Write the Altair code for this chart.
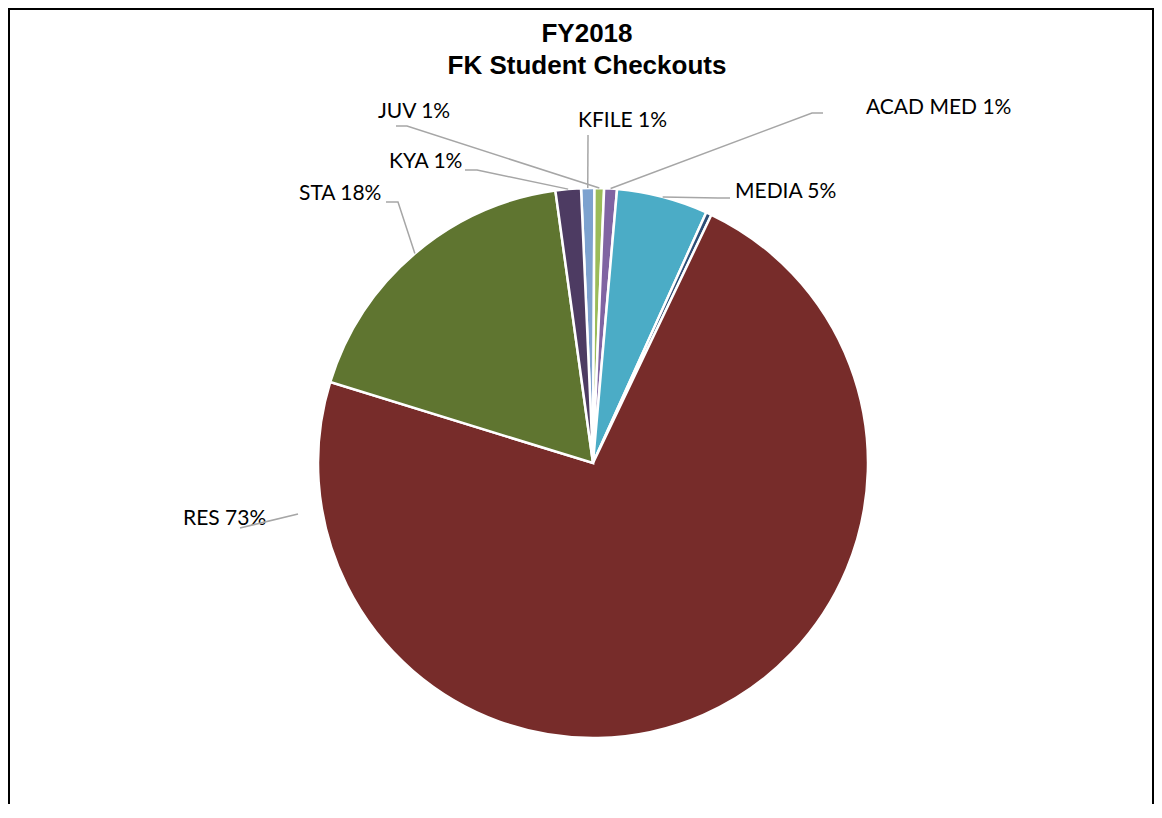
import math
import altair as alt
import pandas as pd

# ---- data (percent of checkouts, clockwise from the top) ----
categories = ["KFILE", "JUV", "ACAD MED", "MEDIA", "OTHER", "RES", "STA", "KYA"]
percents = [0.78, 0.56, 0.75, 5.36, 0.33, 72.67, 18.06, 1.49]
labelled = [True, True, True, True, False, True, True, True]
colors = ["#7DA2CF", "#9BBB59", "#8064A2", "#4BACC6", "#2C4D75", "#772C2A", "#5F7530", "#4D3B62"]

title_lines = ["FY2018", "FK Student Checkouts"]

# ---- layout ----
W, H = 1146, 796
CX, CY, R = 585, 455, 275
START_DEG = -2.5

label_layout = {
    "KFILE": dict(tx=570, ty=113, path=[(580, 127)], rim=True),
    "JUV": dict(tx=370, ty=104, path=[(388, 118), (399, 118)], rim=True),
    "ACAD MED": dict(tx=858, ty=100, path=[(815, 105), (804, 105)], rim=True),
    "MEDIA": dict(tx=727, ty=184, path=[(722, 190), (710, 190)], rim=True),
    "RES": dict(tx=175, ty=511, path=[(232, 520), (290, 506)], rim=False),
    "STA": dict(tx=291, ty=186, path=[(378, 194), (390, 194)], rim=True),
    "KYA": dict(tx=381, ty=154, path=[(457, 162), (469, 162)], rim=True),
}

df = pd.DataFrame({"cat": categories, "pct": percents, "idx": list(range(len(categories)))})

total = sum(percents)
rows_txt, rows_line = [], []
cum = 0.0
for cat, p, show in zip(categories, percents, labelled):
    mid = math.radians(START_DEG + 360.0 * (cum + p / 2) / total)
    cum += p
    if not show:
        continue
    lay = label_layout[cat]
    rows_txt.append({"label": f"{cat} {round(p)}%", "px": lay["tx"], "py": lay["ty"]})
    pts = list(lay["path"])
    if lay["rim"]:
        pts.append((CX + R * math.sin(mid), CY - R * math.cos(mid)))
    for s, (x, y) in enumerate(pts):
        rows_line.append({"key": cat, "seq": s, "px": x, "py": y})

txt_df = pd.DataFrame(rows_txt)
line_df = pd.DataFrame(rows_line)
title_df = pd.DataFrame({"t": title_lines, "px": [579, 579], "py": [26, 58]})

start = math.radians(START_DEG)
xs = alt.Scale(domain=[0, W], range=[0, W])
ys = alt.Scale(domain=[0, H], range=[0, H])

pie = alt.Chart(df).mark_arc(
    outerRadius=R, stroke="white", strokeWidth=2.5, x=CX, y=CY
).encode(
    theta=alt.Theta("pct:Q", stack=True, scale=alt.Scale(range=[start, start + 2 * math.pi])),
    color=alt.Color("cat:N", scale=alt.Scale(domain=categories, range=colors), legend=None),
    order=alt.Order("idx:Q"),
)

labels = alt.Chart(txt_df).mark_text(
    align="left", baseline="middle", font="Lato", fontSize=21, color="#000000"
).encode(
    x=alt.X("px:Q", scale=xs, axis=None),
    y=alt.Y("py:Q", scale=ys, axis=None),
    text="label:N",
)

leaders = alt.Chart(line_df).mark_line(color="#A6A6A6", strokeWidth=1.5).encode(
    x=alt.X("px:Q", scale=xs, axis=None),
    y=alt.Y("py:Q", scale=ys, axis=None),
    detail="key:N",
    order="seq:Q",
)

title = alt.Chart(title_df).mark_text(
    align="center", baseline="middle", font="Liberation Sans", fontWeight="bold",
    fontSize=26, color="#000000"
).encode(
    x=alt.X("px:Q", scale=xs, axis=None),
    y=alt.Y("py:Q", scale=ys, axis=None),
    text="t:N",
)

frame_left = alt.Chart(df).mark_rule(color="#000000", strokeWidth=2).encode(
    x=alt.value(1), y=alt.value(0), y2=alt.value(H)
)
frame_right = alt.Chart(df).mark_rule(color="#000000", strokeWidth=2).encode(
    x=alt.value(W - 1), y=alt.value(0), y2=alt.value(H)
)
frame_top = alt.Chart(df).mark_rule(color="#000000", strokeWidth=2).encode(
    x=alt.value(0), x2=alt.value(W), y=alt.value(1)
)

chart = alt.layer(
    pie, labels, leaders, title, frame_left, frame_right, frame_top
).properties(
    width=W, height=H, padding=0, autosize=alt.AutoSizeParams(type="none"),
    background="white",
).configure_view(stroke=None)

chart.save("out.html", embed_options={"renderer": "svg", "actions": False})
